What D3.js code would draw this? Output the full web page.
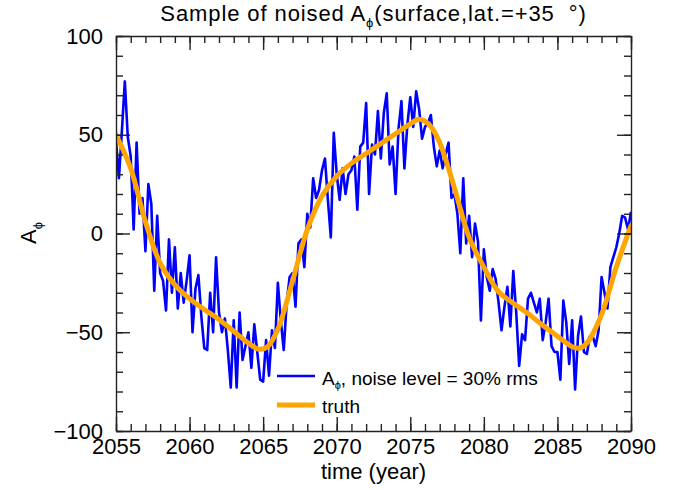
<!DOCTYPE html>
<html>
<head>
<meta charset="utf-8">
<script src="https://cdn.jsdelivr.net/npm/d3@7"></script>
<style>
  html, body { margin: 0; padding: 0; background: #fff; }
  svg { display: block; font-family: "Liberation Sans", Arial, Helvetica, sans-serif; }
  .axis path, .axis line { stroke: #222; stroke-width: 1.4; }
  .axis text { font-size: 22px; fill: #000; }
</style>
</head>
<body>
<svg id="chart" width="683" height="490"></svg>
<script>
// noisy sample: one value every 0.2 year from 2055.0 to 2090.0
const NOISE_START = 2055;
const NOISE_STEP = 0.2;
const NOISE_VALUES = [
  47, 28, 52, 77, 49, 39, 2, 46, 10, 18,
  -9, 25, 15, -29, 9, -20, -24, -39, -3, -30,
  -7, -38, -20, -35, -24, -11, -50, -28, -21, -42,
  -58, -59, -30, -50, -12, -40, -50, -43, -59, -78,
  -44, -78, -40, -64, -57, -50, -68, -46, -60, -74,
  -75, -54, -72, -49, -58, -25, -44, -59, -35, -22,
  -20, -37, -5, -3, -17, 10, 3, 28, 18, 22,
  32, 38, 17, -2, 51, 30, 17, 33, 20, 30,
  32, 39, 12, 44, 46, 66, 20, 45, 40, 62,
  38, 61, 71, 35, 44, 20, 53, 67, 33, 55,
  69, 54, 72, 63, 48, 54, 56, 60, 44, 34,
  42, 33, 40, 46, 18, 20, 10, -10, 28, -5,
  9, -12, 5, -4, -44, -8, -22, -29, -18, -23,
  -35, -49, -37, -27, -47, -19, -40, -67, -51, -54,
  -33, -30, -35, -40, -33, -54, -45, -33, -57, -60,
  -60, -74, -34, -45, -66, -44, -79, -52, -42, -60,
  -61, -52, -52, -57, -49, -22, -30, -38, -17, -12,
  -7, 0, 9, 8, 2, 11
];

// smooth "truth" curve
const TRUTH_YEARS = [2055, 2056, 2057, 2058, 2059, 2060, 2061, 2062, 2063, 2064, 2064.7, 2065.3,
  2066, 2067, 2068, 2069, 2070, 2071, 2072, 2073, 2074, 2075, 2075.6, 2076.3, 2077, 2078, 2079,
  2080, 2081, 2082, 2083, 2084, 2085, 2086, 2086.5, 2087, 2088, 2089, 2090];
const TRUTH_VALUES = [50, 33, 6, -15, -26, -33, -38.5, -43.5, -49.5, -55.5, -58.6, -57.3,
  -48.5, -24, 2, 19, 29, 35.5, 40.5, 45.5, 50.5, 55.5, 57.8, 55, 46, 23, -2,
  -17, -29.5, -35.3, -40.5, -46.5, -52, -57.3, -58.1, -55.5, -41, -17, 4];

const X_TICKS = [2055, 2060, 2065, 2070, 2075, 2080, 2085, 2090];
const Y_TICKS = [-100, -50, 0, 50, 100];
const X_MINOR = d3.range(2055, 2091, 1);
const Y_MINOR = d3.range(-100, 101, 10);

const svg = d3.select("#chart");
const plotLeft = 116, plotRight = 631, plotTop = 36, plotBottom = 431;

const x = d3.scaleLinear().domain([2055, 2090]).range([plotLeft, plotRight]);
const y = d3.scaleLinear().domain([-100, 100]).range([plotBottom, plotTop]);

const fmt = (d) => (d < 0 ? "\u2212" + Math.abs(d) : String(d));

svg.append("clipPath").attr("id", "plot-clip")
  .append("rect").attr("x", plotLeft).attr("y", plotTop)
  .attr("width", plotRight - plotLeft).attr("height", plotBottom - plotTop);

const noise = NOISE_VALUES.map((v, i) => ({ t: NOISE_START + i * NOISE_STEP, v }));
const truth = TRUTH_YEARS.map((t, i) => ({ t, v: TRUTH_VALUES[i] }));

const plot = svg.append("g").attr("clip-path", "url(#plot-clip)");

plot.append("path")
  .datum(noise)
  .attr("fill", "none")
  .attr("stroke", "#0000ff")
  .attr("stroke-width", 2.6)
  .attr("stroke-linejoin", "round")
  .attr("d", d3.line().x((d) => x(d.t)).y((d) => y(d.v)));

plot.append("path")
  .datum(truth)
  .attr("fill", "none")
  .attr("stroke", "#ffa500")
  .attr("stroke-width", 5)
  .attr("stroke-linecap", "round")
  .attr("d", d3.line().curve(d3.curveCatmullRom.alpha(0.5)).x((d) => x(d.t)).y((d) => y(d.v)));

// legend
const legend = svg.append("g");
legend.append("line").attr("x1", 277).attr("x2", 315).attr("y1", 376).attr("y2", 376)
  .attr("stroke", "#0000ff").attr("stroke-width", 2.5);
const lt = legend.append("text").attr("x", 322).attr("y", 385).attr("font-size", 19);
lt.append("tspan").text("A");
lt.append("tspan").attr("font-size", 11).attr("dy", 4).text("\u03d5");
lt.append("tspan").attr("dy", -4).text(", noise level = 30% rms");
legend.append("line").attr("x1", 277).attr("x2", 315).attr("y1", 405).attr("y2", 405)
  .attr("stroke", "#ffa500").attr("stroke-width", 5);
legend.append("text").attr("x", 322).attr("y", 413).attr("font-size", 19).text("truth");

// axes: major ticks with labels, minor ticks, inward on all four sides
function drawAxis(axisFn, scale, transform, majors, minors, labels) {
  svg.append("g").attr("class", "axis").attr("transform", transform)
    .call(axisFn(scale).tickValues(minors).tickSize(-7).tickFormat(""))
    .call((g) => g.select(".domain").remove());
  const g = svg.append("g").attr("class", "axis").attr("transform", transform)
    .call(axisFn(scale).tickValues(majors).tickSize(-14).tickSizeOuter(0).tickPadding(labels ? 12 : 0)
      .tickFormat(labels ? fmt : ""));
  return g;
}

const bx = drawAxis(d3.axisBottom, x, `translate(0,${plotBottom})`, X_TICKS, X_MINOR, true);
bx.selectAll("text").attr("dy", "0.71em").attr("y", 7);
drawAxis(d3.axisTop, x, `translate(0,${plotTop})`, X_TICKS, X_MINOR, false);
const ly = drawAxis(d3.axisLeft, y, `translate(${plotLeft},0)`, Y_TICKS, Y_MINOR, true);
ly.selectAll("text").attr("x", -13);
drawAxis(d3.axisRight, y, `translate(${plotRight},0)`, Y_TICKS, Y_MINOR, false);

// title
const title = svg.append("text").attr("x", (plotLeft + plotRight) / 2).attr("y", 20.5)
  .attr("text-anchor", "middle").attr("font-size", 22)
  .attr("letter-spacing", 0.9).style("white-space", "pre");
title.append("tspan").text("Sample of noised A");
title.append("tspan").attr("font-size", 13).attr("dy", 6).text("\u03d5");
title.append("tspan").attr("dy", -6).text("(surface,lat.=+35  \u00b0)");

// axis titles
svg.append("text").attr("x", (plotLeft + plotRight) / 2).attr("y", 479)
  .attr("text-anchor", "middle").attr("font-size", 22).text("time (year)");

const yl = svg.append("text").attr("transform", "translate(36,233) rotate(-90)")
  .attr("text-anchor", "middle").attr("font-size", 22);
yl.append("tspan").text("A");
yl.append("tspan").attr("font-size", 13).attr("dy", 6).text("\u03d5");
</script>
</body>
</html>
